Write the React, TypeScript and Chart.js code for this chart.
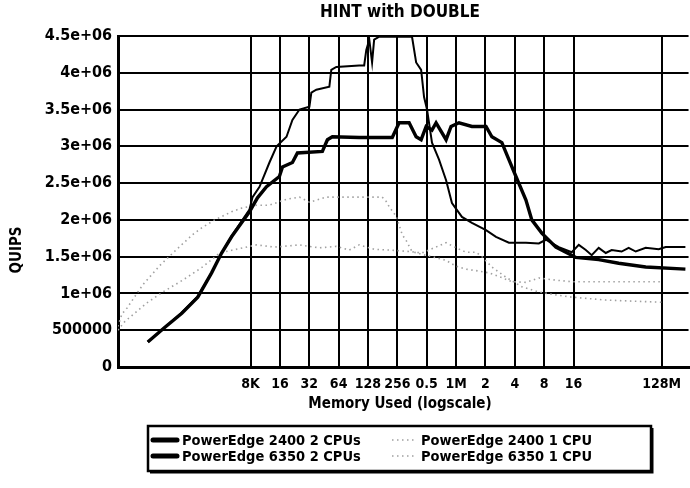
import React, { useEffect, useRef } from "react";
import { Chart, registerables } from "chart.js";

Chart.register(...registerables);

const FONT = '"DejaVu Sans Condensed", "Liberation Sans Narrow", "DejaVu Sans", sans-serif';

const chartTitle = "HINT with DOUBLE";
const xAxisTitle = "Memory Used (logscale)";
const yAxisTitle = "QUIPS";

const seriesNames = [
  "PowerEdge 2400 2 CPUs",
  "PowerEdge 6350 2 CPUs",
  "PowerEdge 2400 1 CPU",
  "PowerEdge 6350 1 CPU",
];

// memory in KB
const xTickValues = [8, 16, 32, 64, 128, 256, 512, 1024, 2048, 4096, 8192, 16384, 131072];
const xTickLabels = ["8K", "16", "32", "64", "128", "256", "0.5", "1M", "2", "4", "8", "16", "128M"];
const xMin = 0.35;
const xMax = 247700;

const yTickLabels = ["0", "500000", "1e+06", "1.5e+06", "2e+06", "2.5e+06", "3e+06", "3.5e+06", "4e+06", "4.5e+06"];

// PowerEdge 2400, 2 CPUs
const pe2400x2Mem = [0.707, 1.06, 1.58, 2.3, 3.19, 4.04, 5.11, 6.47, 7.8, 8.39, 9.89, 12.5, 14.8, 18.7, 21.5, 25.4, 32.1, 33.6, 37.8, 51.4, 53.8, 60.6, 104, 117, 123, 132, 141, 148, 167, 227, 362, 399, 449, 481, 516, 580, 685, 809, 929, 1176, 1489, 2076, 2628, 3565, 5330, 7230, 8537, 11585, 15716, 18556, 21909, 25169, 29710, 35100, 40330, 51040, 60260, 71170, 90110, 122300, 144500, 230000];
const pe2400x2Quips = [340000, 540000, 740000, 960000, 1280000, 1550000, 1780000, 1980000, 2140000, 2310000, 2450000, 2780000, 3000000, 3130000, 3360000, 3500000, 3540000, 3730000, 3770000, 3810000, 4040000, 4080000, 4100000, 4100000, 4310000, 4450000, 4140000, 4450000, 4490000, 4490000, 4490000, 4140000, 4040000, 3670000, 3500000, 3050000, 2820000, 2540000, 2230000, 2040000, 1960000, 1860000, 1770000, 1690000, 1690000, 1680000, 1730000, 1630000, 1560000, 1660000, 1590000, 1520000, 1620000, 1550000, 1590000, 1570000, 1620000, 1570000, 1620000, 1600000, 1630000, 1630000];

// PowerEdge 6350, 2 CPUs
const pe6350x2Mem = [0.707, 1.06, 1.58, 2.3, 3.19, 4.04, 5.11, 6.47, 7.8, 9.42, 11.66, 15.8, 17.0, 21.5, 24.2, 43.6, 49.1, 55.2, 104, 227, 267, 338, 399, 449, 505, 580, 639, 809, 910, 1097, 1489, 2076, 2385, 3019, 3565, 4210, 5330, 6122, 7748, 10808, 13679, 17313, 29710, 47620, 90110, 230000];
const pe6350x2Quips = [340000, 540000, 730000, 950000, 1280000, 1550000, 1770000, 1960000, 2110000, 2300000, 2450000, 2590000, 2720000, 2780000, 2910000, 2930000, 3090000, 3130000, 3120000, 3120000, 3320000, 3320000, 3130000, 3090000, 3270000, 3220000, 3320000, 3090000, 3270000, 3320000, 3270000, 3270000, 3130000, 3050000, 2820000, 2590000, 2270000, 2000000, 1820000, 1630000, 1560000, 1490000, 1460000, 1410000, 1360000, 1330000];

// PowerEdge 2400, 1 CPU
const pe2400x1Mem = [0.349, 0.384, 0.432, 0.63, 0.94, 1.4, 2.04, 2.58, 3.43, 5.11, 6.47, 9.2, 12.5, 18.7, 25.4, 32.1, 47.9, 82.3, 123, 179, 197, 211, 249, 267, 287, 315, 362, 458, 580, 809, 1024, 1296, 1640, 2225, 2817, 3821, 5330, 7230, 10808, 15716, 35100, 131072];
const pe2400x1Quips = [550000, 720000, 800000, 1120000, 1380000, 1600000, 1800000, 1900000, 2000000, 2110000, 2160000, 2200000, 2200000, 2280000, 2310000, 2240000, 2310000, 2310000, 2310000, 2310000, 2250000, 2180000, 2050000, 1930000, 1800000, 1720000, 1570000, 1530000, 1500000, 1450000, 1370000, 1330000, 1310000, 1280000, 1230000, 1160000, 1150000, 1210000, 1180000, 1160000, 1160000, 1160000];

// PowerEdge 6350, 1 CPU
const pe6350x1Mem = [0.349, 0.412, 0.69, 1.01, 1.61, 2.58, 3.86, 5.24, 9.2, 14.1, 25.4, 40.6, 60.6, 82.3, 104, 148, 211, 338, 458, 609, 809, 1024, 1296, 1640, 1885, 2385, 3326, 4210, 4836, 7230, 10808, 15716, 35100, 131072];
const pe6350x1Quips = [500000, 620000, 870000, 1020000, 1180000, 1360000, 1550000, 1590000, 1660000, 1630000, 1660000, 1620000, 1640000, 1590000, 1660000, 1600000, 1590000, 1570000, 1550000, 1620000, 1690000, 1620000, 1560000, 1560000, 1500000, 1360000, 1220000, 1140000, 1090000, 1020000, 980000, 950000, 910000, 880000];

const toPoints = (xs: number[], ys: number[]) => xs.map((x, i) => ({ x, y: ys[i] }));

const seriesStyles = [
  { color: "#000", width: 2, dash: [] as number[], legendWidth: 5 },
  { color: "#000", width: 3.4, dash: [] as number[], legendWidth: 5 },
  { color: "#a0a0a0", width: 1.6, dash: [1.5, 3.5], legendWidth: 1.6 },
  { color: "#a0a0a0", width: 1.6, dash: [1.5, 3.5], legendWidth: 1.6 },
];

const decorPlugin = {
  id: "decor",
  afterDraw(chart: any) {
    const ctx = chart.ctx as CanvasRenderingContext2D;
    ctx.save();
    ctx.fillStyle = "#000";
    ctx.textAlign = "center";
    ctx.textBaseline = "middle";
    ctx.font = `bold 17px ${FONT}`;
    ctx.fillText(chartTitle, 400, 13);
    ctx.font = `bold 15px ${FONT}`;
    ctx.fillText(xAxisTitle, 400, 404);
    ctx.save();
    ctx.translate(17, 250);
    ctx.rotate(-Math.PI / 2);
    ctx.fillText(yAxisTitle, 0, 0);
    ctx.restore();

    // legend box
    const bx = 148, by = 426, bw = 503, bh = 45;
    ctx.fillStyle = "#fff";
    ctx.fillRect(bx, by, bw, bh);
    ctx.strokeStyle = "#000";
    ctx.lineWidth = 2.5;
    ctx.strokeRect(bx, by, bw, bh);
    ctx.lineWidth = 2;
    ctx.beginPath();
    ctx.moveTo(bx + 2, by + bh + 1.5);
    ctx.lineTo(bx + bw + 1.5, by + bh + 1.5);
    ctx.lineTo(bx + bw + 1.5, by + 2);
    ctx.stroke();

    ctx.font = `bold 14.5px ${FONT}`;
    ctx.textAlign = "left";
    ctx.fillStyle = "#000";
    seriesNames.forEach((name, i) => {
      const col = i < 2 ? 0 : 1;
      const row = i % 2;
      const x0 = col === 0 ? 153 : 392;
      const y = 440 + row * 16;
      const st = seriesStyles[i];
      ctx.save();
      ctx.strokeStyle = st.color;
      ctx.lineWidth = st.legendWidth;
      ctx.lineCap = st.dash.length ? "butt" : "round";
      ctx.setLineDash(st.dash);
      ctx.beginPath();
      ctx.moveTo(x0, y);
      ctx.lineTo(x0 + 24, y);
      ctx.stroke();
      ctx.restore();
      ctx.fillText(name, x0 + 29, y + 1);
    });
    ctx.restore();
  },
};

export default function App() {
  const ref = useRef<HTMLCanvasElement | null>(null);
  useEffect(() => {
    document.body.style.margin = "0";
    const canvas = ref.current;
    if (!canvas) return;
    const allMem = [pe2400x2Mem, pe6350x2Mem, pe2400x1Mem, pe6350x1Mem];
    const allQuips = [pe2400x2Quips, pe6350x2Quips, pe2400x1Quips, pe6350x1Quips];
    const chart = new Chart(canvas, {
      type: "line",
      data: {
        datasets: seriesNames.map((name, i) => ({
          label: name,
          data: toPoints(allMem[i], allQuips[i]),
          borderColor: seriesStyles[i].color,
          borderWidth: seriesStyles[i].width,
          borderDash: seriesStyles[i].dash,
          pointRadius: 0,
          tension: 0,
          fill: false,
        })),
      },
      options: {
        responsive: false,
        animation: false,
        layout: { padding: { top: 36, left: 0, right: 0, bottom: 0 } },
        plugins: {
          legend: { display: false },
          title: { display: false },
          tooltip: { enabled: false },
        },
        scales: {
          x: {
            type: "logarithmic",
            min: xMin,
            max: xMax,
            afterBuildTicks: (scale: any) => {
              scale.ticks = xTickValues.map((v) => ({ value: v }));
            },
            afterFit: (scale: any) => {
              scale.height = 121;
            },
            ticks: {
              autoSkip: false,
              maxRotation: 0,
              minRotation: 0,
              padding: 9,
              color: "#000",
              font: { family: FONT, size: 14, weight: "bold" },
              callback: (_v: any, i: number) => xTickLabels[i],
            },
            grid: { color: "#000", lineWidth: 2, drawTicks: false },
            border: { color: "#000", width: 3 },
          },
          y: {
            type: "linear",
            min: 0,
            max: 4500000,
            afterBuildTicks: (scale: any) => {
              scale.ticks = yTickLabels.map((_l, i) => ({ value: i * 500000 }));
            },
            afterFit: (scale: any) => {
              scale.width = 118;
            },
            ticks: {
              padding: 6,
              color: "#000",
              font: { family: FONT, size: 16, weight: "bold" },
              callback: (_v: any, i: number) => yTickLabels[i],
            },
            grid: { color: "#000", lineWidth: 2, drawTicks: false },
            border: { color: "#000", width: 3 },
          },
        },
      },
      plugins: [decorPlugin],
    } as any);
    return () => chart.destroy();
  }, []);
  return (
    <canvas
      ref={ref}
      width={690}
      height={488}
      style={{ display: "block", width: 690, height: 488 }}
    />
  );
}
